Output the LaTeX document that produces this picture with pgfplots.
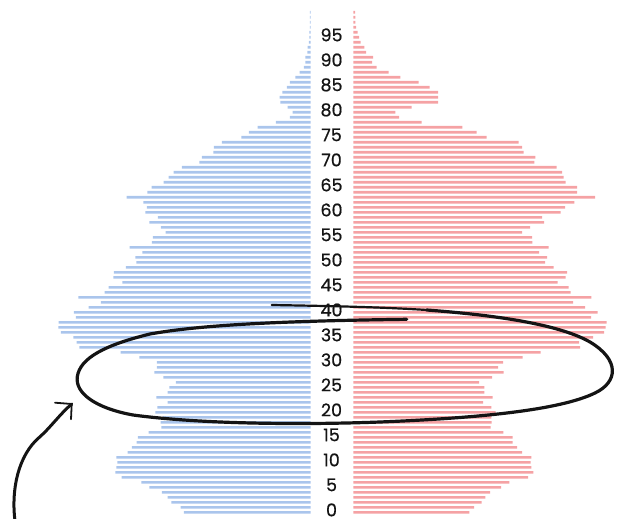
\documentclass[border=0pt]{standalone}
\usepackage{pgfplots}
\pgfplotsset{compat=1.18}
\usepackage{pgfplotstable}
\usepackage{fontspec}
\setmainfont{Poppins}
\newfontfamily\labelfont[FakeBold=0.6]{Poppins}
\definecolor{mblue}{RGB}{170,197,236}
\definecolor{fpink}{RGB}{245,162,164}
\definecolor{ink}{RGB}{20,20,20}

\pgfplotstableread{
age val
0 126.7
1 130
2 139.3
3 143
4 148.7
5 161.3
6 169.3
7 189
8 195.3
9 194.3
10 193.3
11 194.3
12 183
13 178.7
14 174
15 172.7
16 162
17 149.3
18 150
19 147.7
20 155.3
21 153.3
22 143
23 154.3
24 143
25 141.3
26 134.7
27 147.3
28 156.3
29 153.7
30 153.7
31 171.3
32 190
33 231.3
34 234
35 237.3
36 249.7
37 252.3
38 252
39 234.7
40 236.7
41 222
42 209.7
43 232.3
44 206
45 202
46 188.3
47 197.3
48 196.7
49 184.7
50 174.3
51 175.3
52 168.3
53 181
54 158.7
55 157.7
56 145
57 149.7
58 161.3
59 152.7
60 165.3
61 163.7
62 167.3
63 184
64 163.3
65 159
66 147
67 142
68 137
69 128.7
70 111.3
71 108.7
72 97.3
73 96.7
74 88.7
75 69.3
76 61.7
77 53
78 34.7
79 20.7
80 18
81 23
82 30.3
83 31
84 28.3
85 23.7
86 20.7
87 15.3
88 11
89 6.7
90 5.3
91 5.3
92 3.3
93 3
94 1.7
95 1.3
96 1.3
97 0.7
98 0.7
99 0.7
100 0.7
}\male

\pgfplotstableread{
age val
0 116
1 120.7
2 128.3
3 132
4 136.7
5 147.7
6 156
7 174.7
8 180
9 178
10 177.3
11 178
12 168.7
13 163.7
14 159.3
15 159.3
16 150
17 137.3
18 138.3
19 138
20 142.3
21 138
22 129.7
23 139.3
24 131
25 131
26 125.7
27 138.7
28 150.3
29 144.7
30 149.7
31 169.3
32 187.3
33 226.7
34 225.7
35 239.7
36 250.7
37 252.3
38 253.3
39 237.7
40 244.3
41 231.7
42 219.7
43 238
44 217.3
45 215.3
46 204.3
47 212.3
48 213.7
49 200.3
50 191.7
51 193.7
52 185.7
53 195.3
54 179
55 178.7
56 168.7
57 176.7
58 190.7
59 188.7
60 207.3
61 211.7
62 221
63 241.7
64 223.7
65 223.7
66 212.3
67 210.3
68 208.7
69 203.3
70 181
71 182
72 170.3
73 168.7
74 165.3
75 133.3
76 123.3
77 109
78 68.3
79 45.7
80 42
81 58.3
82 84.7
83 84.7
84 84.7
85 76.3
86 65.3
87 47
88 35.3
89 23.3
90 18.7
91 19.7
92 12.7
93 11
94 7.3
95 5.7
96 4.3
97 2.7
98 2
99 2
100 1.7
}\female

\pgfplotsset{
  pyr/.style={
    scale only axis,
    width=260pt, height=505pt,
    xmin=0, xmax=260,
    ymin=-0.5, ymax=100.5,
    axis line style={draw=none},
    xtick=\empty,
    major tick length=0pt,
    xbar, bar width=0.52,
    clip=false,
  }
}

\begin{document}
\begin{tikzpicture}
\useasboundingbox (0pt,0pt) rectangle (622pt,-519pt);

% males (left)
\begin{axis}[pyr, x dir=reverse, ytick=\empty,
  at={(310.67pt,-514.8pt)}, anchor=south east]
  \addplot[draw=none, fill=mblue] table[x=val, y=age] {\male};
\end{axis}

% females (right), with the age labels in the middle
\begin{axis}[pyr,
  at={(353.33pt,-514.8pt)}, anchor=south west,
  ytick={0,5,...,95},
  /pgf/number format/assume math mode=true,
  yticklabel style={anchor=center, xshift=-21.8pt, yshift=2.4pt,
    inner sep=0pt, font=\labelfont\fontsize{17.5}{19}\selectfont, text=ink}]
  \addplot[draw=none, fill=fpink] table[x=val, y=age] {\female};
\end{axis}

% hand-drawn annotations
\begin{scope}[x=1pt, y=-1pt, line cap=round, line join=round, draw=ink]
  % loop: thin start
  \draw[line width=2.2pt] (271.7,305) .. controls (330,306) and (380,307) .. (426.7,310);
  \draw[line width=3.2pt] (426.7,310)
      .. controls (480,314) and (555,322) .. (590,342)
      .. controls (620,360) and (618,382) .. (595,393)
      .. controls (560,410) and (480,418) .. (380,422)
      .. controls (300,425) and (200,424) .. (133,415)
      .. controls (95,408) and (75,393) .. (77.3,376.7)
      .. controls (80,358) and (105,345) .. (150,334)
      .. controls (200,325) and (280,321) .. (406.7,319.3);
  % arrow
  \draw[line width=3pt] (15,521) .. controls (11,490) and (18,455) .. (40,436.7)
      .. controls (50,428) and (60,414) .. (71.7,404);
  \draw[line width=1.8pt] (55,402.7) -- (71.7,404) -- (71,419.3);
\end{scope}
\end{tikzpicture}
\end{document}
